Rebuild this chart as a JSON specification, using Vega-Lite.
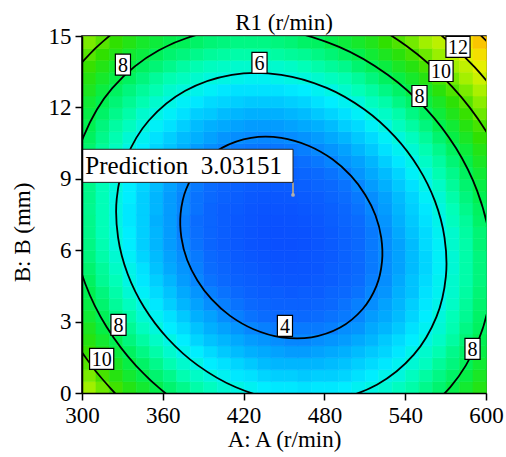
{
"$schema": "https://vega.github.io/schema/vega-lite/v6.json",
"width": 404, "height": 357,
"autosize": {"type": "none"},
"padding": {"left": 82, "top": 36, "right": 20, "bottom": 64},
"background": "white",
"title": {"text": "R1 (r/min)", "font": "'Liberation Serif', 'Times New Roman', Times, serif", "fontSize": 23, "fontWeight": "normal", "color": "black", "offset": -28, "baseline": "alphabetic", "anchor": "middle"},
"config": {
 "view": {"stroke": "black", "strokeWidth": 1.5},
 "axis": {"labelFont": "'Liberation Serif', 'Times New Roman', Times, serif", "labelFontSize": 23, "labelColor": "black", "titleFont": "'Liberation Serif', 'Times New Roman', Times, serif", "titleFontSize": 23, "titleFontWeight": "normal", "titleColor": "black", "domainColor": "black", "domainWidth": 1.5, "tickColor": "black", "tickWidth": 1.5, "tickSize": 7, "grid": false, "labelPadding": 4, "labelFlush": false, "labelOverlap": false},
 "axisX": {"titlePadding": 1},
 "axisY": {"titlePadding": 14, "titleY": 196}
},
"datasets": {
"grid": [
{"a":300,"b":0,"r":11.0},{"a":310,"b":0,"r":10.3},{"a":320,"b":0,"r":9.7},{"a":330,"b":0,"r":9.1},{"a":340,"b":0,"r":8.6},{"a":350,"b":0,"r":8.1},{"a":360,"b":0,"r":7.6},{"a":370,"b":0,"r":7.2},{"a":380,"b":0,"r":6.8},{"a":390,"b":0,"r":6.5},{"a":400,"b":0,"r":6.2},{"a":410,"b":0,"r":6.0},{"a":420,"b":0,"r":5.8},{"a":430,"b":0,"r":5.6},{"a":440,"b":0,"r":5.5},{"a":450,"b":0,"r":5.5},{"a":460,"b":0,"r":5.4},{"a":470,"b":0,"r":5.5},{"a":480,"b":0,"r":5.5},{"a":490,"b":0,"r":5.6},{"a":500,"b":0,"r":5.8},{"a":510,"b":0,"r":6.0},{"a":520,"b":0,"r":6.2},{"a":530,"b":0,"r":6.5},{"a":540,"b":0,"r":6.8},{"a":550,"b":0,"r":7.2},{"a":560,"b":0,"r":7.6},{"a":570,"b":0,"r":8.1},{"a":580,"b":0,"r":8.6},{"a":590,"b":0,"r":9.1},
{"a":300,"b":0.5,"r":10.5},{"a":310,"b":0.5,"r":9.8},{"a":320,"b":0.5,"r":9.2},{"a":330,"b":0.5,"r":8.6},{"a":340,"b":0.5,"r":8.1},{"a":350,"b":0.5,"r":7.6},{"a":360,"b":0.5,"r":7.2},{"a":370,"b":0.5,"r":6.7},{"a":380,"b":0.5,"r":6.4},{"a":390,"b":0.5,"r":6.1},{"a":400,"b":0.5,"r":5.8},{"a":410,"b":0.5,"r":5.5},{"a":420,"b":0.5,"r":5.4},{"a":430,"b":0.5,"r":5.2},{"a":440,"b":0.5,"r":5.1},{"a":450,"b":0.5,"r":5.1},{"a":460,"b":0.5,"r":5.0},{"a":470,"b":0.5,"r":5.1},{"a":480,"b":0.5,"r":5.1},{"a":490,"b":0.5,"r":5.2},{"a":500,"b":0.5,"r":5.4},{"a":510,"b":0.5,"r":5.6},{"a":520,"b":0.5,"r":5.9},{"a":530,"b":0.5,"r":6.1},{"a":540,"b":0.5,"r":6.5},{"a":550,"b":0.5,"r":6.9},{"a":560,"b":0.5,"r":7.3},{"a":570,"b":0.5,"r":7.7},{"a":580,"b":0.5,"r":8.2},{"a":590,"b":0.5,"r":8.8},
{"a":300,"b":1,"r":10.0},{"a":310,"b":1,"r":9.4},{"a":320,"b":1,"r":8.8},{"a":330,"b":1,"r":8.2},{"a":340,"b":1,"r":7.7},{"a":350,"b":1,"r":7.2},{"a":360,"b":1,"r":6.7},{"a":370,"b":1,"r":6.3},{"a":380,"b":1,"r":6.0},{"a":390,"b":1,"r":5.6},{"a":400,"b":1,"r":5.4},{"a":410,"b":1,"r":5.2},{"a":420,"b":1,"r":5.0},{"a":430,"b":1,"r":4.8},{"a":440,"b":1,"r":4.7},{"a":450,"b":1,"r":4.7},{"a":460,"b":1,"r":4.7},{"a":470,"b":1,"r":4.7},{"a":480,"b":1,"r":4.8},{"a":490,"b":1,"r":4.9},{"a":500,"b":1,"r":5.1},{"a":510,"b":1,"r":5.3},{"a":520,"b":1,"r":5.5},{"a":530,"b":1,"r":5.8},{"a":540,"b":1,"r":6.2},{"a":550,"b":1,"r":6.5},{"a":560,"b":1,"r":7.0},{"a":570,"b":1,"r":7.4},{"a":580,"b":1,"r":7.9},{"a":590,"b":1,"r":8.5},
{"a":300,"b":1.5,"r":9.6},{"a":310,"b":1.5,"r":9.0},{"a":320,"b":1.5,"r":8.3},{"a":330,"b":1.5,"r":7.8},{"a":340,"b":1.5,"r":7.3},{"a":350,"b":1.5,"r":6.8},{"a":360,"b":1.5,"r":6.3},{"a":370,"b":1.5,"r":5.9},{"a":380,"b":1.5,"r":5.6},{"a":390,"b":1.5,"r":5.3},{"a":400,"b":1.5,"r":5.0},{"a":410,"b":1.5,"r":4.8},{"a":420,"b":1.5,"r":4.6},{"a":430,"b":1.5,"r":4.5},{"a":440,"b":1.5,"r":4.4},{"a":450,"b":1.5,"r":4.3},{"a":460,"b":1.5,"r":4.3},{"a":470,"b":1.5,"r":4.4},{"a":480,"b":1.5,"r":4.5},{"a":490,"b":1.5,"r":4.6},{"a":500,"b":1.5,"r":4.8},{"a":510,"b":1.5,"r":5.0},{"a":520,"b":1.5,"r":5.2},{"a":530,"b":1.5,"r":5.5},{"a":540,"b":1.5,"r":5.9},{"a":550,"b":1.5,"r":6.3},{"a":560,"b":1.5,"r":6.7},{"a":570,"b":1.5,"r":7.2},{"a":580,"b":1.5,"r":7.7},{"a":590,"b":1.5,"r":8.2},
{"a":300,"b":2,"r":9.2},{"a":310,"b":2,"r":8.6},{"a":320,"b":2,"r":8.0},{"a":330,"b":2,"r":7.4},{"a":340,"b":2,"r":6.9},{"a":350,"b":2,"r":6.4},{"a":360,"b":2,"r":6.0},{"a":370,"b":2,"r":5.6},{"a":380,"b":2,"r":5.2},{"a":390,"b":2,"r":4.9},{"a":400,"b":2,"r":4.7},{"a":410,"b":2,"r":4.5},{"a":420,"b":2,"r":4.3},{"a":430,"b":2,"r":4.2},{"a":440,"b":2,"r":4.1},{"a":450,"b":2,"r":4.0},{"a":460,"b":2,"r":4.0},{"a":470,"b":2,"r":4.1},{"a":480,"b":2,"r":4.2},{"a":490,"b":2,"r":4.3},{"a":500,"b":2,"r":4.5},{"a":510,"b":2,"r":4.7},{"a":520,"b":2,"r":5.0},{"a":530,"b":2,"r":5.3},{"a":540,"b":2,"r":5.6},{"a":550,"b":2,"r":6.0},{"a":560,"b":2,"r":6.4},{"a":570,"b":2,"r":6.9},{"a":580,"b":2,"r":7.5},{"a":590,"b":2,"r":8.0},
{"a":300,"b":2.5,"r":8.9},{"a":310,"b":2.5,"r":8.2},{"a":320,"b":2.5,"r":7.6},{"a":330,"b":2.5,"r":7.1},{"a":340,"b":2.5,"r":6.5},{"a":350,"b":2.5,"r":6.1},{"a":360,"b":2.5,"r":5.6},{"a":370,"b":2.5,"r":5.3},{"a":380,"b":2.5,"r":4.9},{"a":390,"b":2.5,"r":4.6},{"a":400,"b":2.5,"r":4.4},{"a":410,"b":2.5,"r":4.2},{"a":420,"b":2.5,"r":4.0},{"a":430,"b":2.5,"r":3.9},{"a":440,"b":2.5,"r":3.8},{"a":450,"b":2.5,"r":3.8},{"a":460,"b":2.5,"r":3.8},{"a":470,"b":2.5,"r":3.8},{"a":480,"b":2.5,"r":3.9},{"a":490,"b":2.5,"r":4.1},{"a":500,"b":2.5,"r":4.2},{"a":510,"b":2.5,"r":4.5},{"a":520,"b":2.5,"r":4.7},{"a":530,"b":2.5,"r":5.0},{"a":540,"b":2.5,"r":5.4},{"a":550,"b":2.5,"r":5.8},{"a":560,"b":2.5,"r":6.2},{"a":570,"b":2.5,"r":6.7},{"a":580,"b":2.5,"r":7.3},{"a":590,"b":2.5,"r":7.8},
{"a":300,"b":3,"r":8.5},{"a":310,"b":3,"r":7.9},{"a":320,"b":3,"r":7.3},{"a":330,"b":3,"r":6.8},{"a":340,"b":3,"r":6.2},{"a":350,"b":3,"r":5.8},{"a":360,"b":3,"r":5.4},{"a":370,"b":3,"r":5.0},{"a":380,"b":3,"r":4.6},{"a":390,"b":3,"r":4.4},{"a":400,"b":3,"r":4.1},{"a":410,"b":3,"r":3.9},{"a":420,"b":3,"r":3.7},{"a":430,"b":3,"r":3.6},{"a":440,"b":3,"r":3.5},{"a":450,"b":3,"r":3.5},{"a":460,"b":3,"r":3.5},{"a":470,"b":3,"r":3.6},{"a":480,"b":3,"r":3.7},{"a":490,"b":3,"r":3.8},{"a":500,"b":3,"r":4.0},{"a":510,"b":3,"r":4.3},{"a":520,"b":3,"r":4.5},{"a":530,"b":3,"r":4.8},{"a":540,"b":3,"r":5.2},{"a":550,"b":3,"r":5.6},{"a":560,"b":3,"r":6.1},{"a":570,"b":3,"r":6.6},{"a":580,"b":3,"r":7.1},{"a":590,"b":3,"r":7.7},
{"a":300,"b":3.5,"r":8.2},{"a":310,"b":3.5,"r":7.6},{"a":320,"b":3.5,"r":7.0},{"a":330,"b":3.5,"r":6.5},{"a":340,"b":3.5,"r":6.0},{"a":350,"b":3.5,"r":5.5},{"a":360,"b":3.5,"r":5.1},{"a":370,"b":3.5,"r":4.7},{"a":380,"b":3.5,"r":4.4},{"a":390,"b":3.5,"r":4.1},{"a":400,"b":3.5,"r":3.9},{"a":410,"b":3.5,"r":3.7},{"a":420,"b":3.5,"r":3.5},{"a":430,"b":3.5,"r":3.4},{"a":440,"b":3.5,"r":3.3},{"a":450,"b":3.5,"r":3.3},{"a":460,"b":3.5,"r":3.3},{"a":470,"b":3.5,"r":3.4},{"a":480,"b":3.5,"r":3.5},{"a":490,"b":3.5,"r":3.7},{"a":500,"b":3.5,"r":3.9},{"a":510,"b":3.5,"r":4.1},{"a":520,"b":3.5,"r":4.4},{"a":530,"b":3.5,"r":4.7},{"a":540,"b":3.5,"r":5.1},{"a":550,"b":3.5,"r":5.5},{"a":560,"b":3.5,"r":5.9},{"a":570,"b":3.5,"r":6.4},{"a":580,"b":3.5,"r":7.0},{"a":590,"b":3.5,"r":7.6},
{"a":300,"b":4,"r":8.0},{"a":310,"b":4,"r":7.4},{"a":320,"b":4,"r":6.8},{"a":330,"b":4,"r":6.2},{"a":340,"b":4,"r":5.7},{"a":350,"b":4,"r":5.3},{"a":360,"b":4,"r":4.9},{"a":370,"b":4,"r":4.5},{"a":380,"b":4,"r":4.2},{"a":390,"b":4,"r":3.9},{"a":400,"b":4,"r":3.7},{"a":410,"b":4,"r":3.5},{"a":420,"b":4,"r":3.3},{"a":430,"b":4,"r":3.2},{"a":440,"b":4,"r":3.2},{"a":450,"b":4,"r":3.1},{"a":460,"b":4,"r":3.2},{"a":470,"b":4,"r":3.2},{"a":480,"b":4,"r":3.4},{"a":490,"b":4,"r":3.5},{"a":500,"b":4,"r":3.7},{"a":510,"b":4,"r":4.0},{"a":520,"b":4,"r":4.2},{"a":530,"b":4,"r":4.6},{"a":540,"b":4,"r":4.9},{"a":550,"b":4,"r":5.4},{"a":560,"b":4,"r":5.8},{"a":570,"b":4,"r":6.3},{"a":580,"b":4,"r":6.9},{"a":590,"b":4,"r":7.5},
{"a":300,"b":4.5,"r":7.8},{"a":310,"b":4.5,"r":7.1},{"a":320,"b":4.5,"r":6.6},{"a":330,"b":4.5,"r":6.0},{"a":340,"b":4.5,"r":5.5},{"a":350,"b":4.5,"r":5.1},{"a":360,"b":4.5,"r":4.7},{"a":370,"b":4.5,"r":4.3},{"a":380,"b":4.5,"r":4.0},{"a":390,"b":4.5,"r":3.7},{"a":400,"b":4.5,"r":3.5},{"a":410,"b":4.5,"r":3.3},{"a":420,"b":4.5,"r":3.2},{"a":430,"b":4.5,"r":3.1},{"a":440,"b":4.5,"r":3.0},{"a":450,"b":4.5,"r":3.0},{"a":460,"b":4.5,"r":3.0},{"a":470,"b":4.5,"r":3.1},{"a":480,"b":4.5,"r":3.2},{"a":490,"b":4.5,"r":3.4},{"a":500,"b":4.5,"r":3.6},{"a":510,"b":4.5,"r":3.9},{"a":520,"b":4.5,"r":4.1},{"a":530,"b":4.5,"r":4.5},{"a":540,"b":4.5,"r":4.9},{"a":550,"b":4.5,"r":5.3},{"a":560,"b":4.5,"r":5.8},{"a":570,"b":4.5,"r":6.3},{"a":580,"b":4.5,"r":6.8},{"a":590,"b":4.5,"r":7.4},
{"a":300,"b":5,"r":7.6},{"a":310,"b":5,"r":7.0},{"a":320,"b":5,"r":6.4},{"a":330,"b":5,"r":5.9},{"a":340,"b":5,"r":5.4},{"a":350,"b":5,"r":4.9},{"a":360,"b":5,"r":4.5},{"a":370,"b":5,"r":4.2},{"a":380,"b":5,"r":3.9},{"a":390,"b":5,"r":3.6},{"a":400,"b":5,"r":3.4},{"a":410,"b":5,"r":3.2},{"a":420,"b":5,"r":3.1},{"a":430,"b":5,"r":3.0},{"a":440,"b":5,"r":2.9},{"a":450,"b":5,"r":2.9},{"a":460,"b":5,"r":2.95},{"a":470,"b":5,"r":3.0},{"a":480,"b":5,"r":3.2},{"a":490,"b":5,"r":3.3},{"a":500,"b":5,"r":3.5},{"a":510,"b":5,"r":3.8},{"a":520,"b":5,"r":4.1},{"a":530,"b":5,"r":4.4},{"a":540,"b":5,"r":4.8},{"a":550,"b":5,"r":5.2},{"a":560,"b":5,"r":5.7},{"a":570,"b":5,"r":6.2},{"a":580,"b":5,"r":6.8},{"a":590,"b":5,"r":7.4},
{"a":300,"b":5.5,"r":7.4},{"a":310,"b":5.5,"r":6.8},{"a":320,"b":5.5,"r":6.25},{"a":330,"b":5.5,"r":5.7},{"a":340,"b":5.5,"r":5.2},{"a":350,"b":5.5,"r":4.8},{"a":360,"b":5.5,"r":4.4},{"a":370,"b":5.5,"r":4.1},{"a":380,"b":5.5,"r":3.8},{"a":390,"b":5.5,"r":3.5},{"a":400,"b":5.5,"r":3.3},{"a":410,"b":5.5,"r":3.1},{"a":420,"b":5.5,"r":3.0},{"a":430,"b":5.5,"r":2.9},{"a":440,"b":5.5,"r":2.85},{"a":450,"b":5.5,"r":2.85},{"a":460,"b":5.5,"r":2.9},{"a":470,"b":5.5,"r":3.0},{"a":480,"b":5.5,"r":3.1},{"a":490,"b":5.5,"r":3.3},{"a":500,"b":5.5,"r":3.5},{"a":510,"b":5.5,"r":3.8},{"a":520,"b":5.5,"r":4.1},{"a":530,"b":5.5,"r":4.4},{"a":540,"b":5.5,"r":4.8},{"a":550,"b":5.5,"r":5.2},{"a":560,"b":5.5,"r":5.7},{"a":570,"b":5.5,"r":6.2},{"a":580,"b":5.5,"r":6.8},{"a":590,"b":5.5,"r":7.4},
{"a":300,"b":6,"r":7.3},{"a":310,"b":6,"r":6.7},{"a":320,"b":6,"r":6.1},{"a":330,"b":6,"r":5.6},{"a":340,"b":6,"r":5.1},{"a":350,"b":6,"r":4.7},{"a":360,"b":6,"r":4.3},{"a":370,"b":6,"r":4.0},{"a":380,"b":6,"r":3.7},{"a":390,"b":6,"r":3.4},{"a":400,"b":6,"r":3.2},{"a":410,"b":6,"r":3.05},{"a":420,"b":6,"r":2.9},{"a":430,"b":6,"r":2.85},{"a":440,"b":6,"r":2.8},{"a":450,"b":6,"r":2.8},{"a":460,"b":6,"r":2.86},{"a":470,"b":6,"r":2.96},{"a":480,"b":6,"r":3.1},{"a":490,"b":6,"r":3.3},{"a":500,"b":6,"r":3.5},{"a":510,"b":6,"r":3.8},{"a":520,"b":6,"r":4.1},{"a":530,"b":6,"r":4.4},{"a":540,"b":6,"r":4.8},{"a":550,"b":6,"r":5.3},{"a":560,"b":6,"r":5.7},{"a":570,"b":6,"r":6.3},{"a":580,"b":6,"r":6.8},{"a":590,"b":6,"r":7.5},
{"a":300,"b":6.5,"r":7.2},{"a":310,"b":6.5,"r":6.6},{"a":320,"b":6.5,"r":6.1},{"a":330,"b":6.5,"r":5.6},{"a":340,"b":6.5,"r":5.1},{"a":350,"b":6.5,"r":4.7},{"a":360,"b":6.5,"r":4.3},{"a":370,"b":6.5,"r":3.9},{"a":380,"b":6.5,"r":3.65},{"a":390,"b":6.5,"r":3.4},{"a":400,"b":6.5,"r":3.2},{"a":410,"b":6.5,"r":3.03},{"a":420,"b":6.5,"r":2.91},{"a":430,"b":6.5,"r":2.84},{"a":440,"b":6.5,"r":2.8},{"a":450,"b":6.5,"r":2.82},{"a":460,"b":6.5,"r":2.87},{"a":470,"b":6.5,"r":2.97},{"a":480,"b":6.5,"r":3.1},{"a":490,"b":6.5,"r":3.3},{"a":500,"b":6.5,"r":3.5},{"a":510,"b":6.5,"r":3.8},{"a":520,"b":6.5,"r":4.1},{"a":530,"b":6.5,"r":4.5},{"a":540,"b":6.5,"r":4.9},{"a":550,"b":6.5,"r":5.3},{"a":560,"b":6.5,"r":5.8},{"a":570,"b":6.5,"r":6.3},{"a":580,"b":6.5,"r":6.9},{"a":590,"b":6.5,"r":7.5},
{"a":300,"b":7,"r":7.2},{"a":310,"b":7,"r":6.6},{"a":320,"b":7,"r":6.0},{"a":330,"b":7,"r":5.5},{"a":340,"b":7,"r":5.1},{"a":350,"b":7,"r":4.6},{"a":360,"b":7,"r":4.3},{"a":370,"b":7,"r":3.9},{"a":380,"b":7,"r":3.6},{"a":390,"b":7,"r":3.4},{"a":400,"b":7,"r":3.2},{"a":410,"b":7,"r":3.04},{"a":420,"b":7,"r":2.93},{"a":430,"b":7,"r":2.86},{"a":440,"b":7,"r":2.83},{"a":450,"b":7,"r":2.85},{"a":460,"b":7,"r":2.91},{"a":470,"b":7,"r":3.02},{"a":480,"b":7,"r":3.2},{"a":490,"b":7,"r":3.4},{"a":500,"b":7,"r":3.6},{"a":510,"b":7,"r":3.9},{"a":520,"b":7,"r":4.2},{"a":530,"b":7,"r":4.6},{"a":540,"b":7,"r":5.0},{"a":550,"b":7,"r":5.4},{"a":560,"b":7,"r":5.9},{"a":570,"b":7,"r":6.5},{"a":580,"b":7,"r":7.0},{"a":590,"b":7,"r":7.7},
{"a":300,"b":7.5,"r":7.15},{"a":310,"b":7.5,"r":6.6},{"a":320,"b":7.5,"r":6.0},{"a":330,"b":7.5,"r":5.5},{"a":340,"b":7.5,"r":5.1},{"a":350,"b":7.5,"r":4.7},{"a":360,"b":7.5,"r":4.3},{"a":370,"b":7.5,"r":4.0},{"a":380,"b":7.5,"r":3.7},{"a":390,"b":7.5,"r":3.4},{"a":400,"b":7.5,"r":3.2},{"a":410,"b":7.5,"r":3.1},{"a":420,"b":7.5,"r":2.98},{"a":430,"b":7.5,"r":2.92},{"a":440,"b":7.5,"r":2.9},{"a":450,"b":7.5,"r":2.92},{"a":460,"b":7.5,"r":2.99},{"a":470,"b":7.5,"r":3.1},{"a":480,"b":7.5,"r":3.25},{"a":490,"b":7.5,"r":3.45},{"a":500,"b":7.5,"r":3.7},{"a":510,"b":7.5,"r":4.0},{"a":520,"b":7.5,"r":4.3},{"a":530,"b":7.5,"r":4.7},{"a":540,"b":7.5,"r":5.1},{"a":550,"b":7.5,"r":5.5},{"a":560,"b":7.5,"r":6.05},{"a":570,"b":7.5,"r":6.6},{"a":580,"b":7.5,"r":7.2},{"a":590,"b":7.5,"r":7.8},
{"a":300,"b":8,"r":7.2},{"a":310,"b":8,"r":6.6},{"a":320,"b":8,"r":6.0},{"a":330,"b":8,"r":5.6},{"a":340,"b":8,"r":5.1},{"a":350,"b":8,"r":4.7},{"a":360,"b":8,"r":4.3},{"a":370,"b":8,"r":4.0},{"a":380,"b":8,"r":3.7},{"a":390,"b":8,"r":3.5},{"a":400,"b":8,"r":3.3},{"a":410,"b":8,"r":3.2},{"a":420,"b":8,"r":3.07},{"a":430,"b":8,"r":3.01},{"a":440,"b":8,"r":3.0},{"a":450,"b":8,"r":3.03},{"a":460,"b":8,"r":3.1},{"a":470,"b":8,"r":3.2},{"a":480,"b":8,"r":3.4},{"a":490,"b":8,"r":3.6},{"a":500,"b":8,"r":3.8},{"a":510,"b":8,"r":4.1},{"a":520,"b":8,"r":4.4},{"a":530,"b":8,"r":4.8},{"a":540,"b":8,"r":5.2},{"a":550,"b":8,"r":5.7},{"a":560,"b":8,"r":6.2},{"a":570,"b":8,"r":6.8},{"a":580,"b":8,"r":7.4},{"a":590,"b":8,"r":8.0},
{"a":300,"b":8.5,"r":7.2},{"a":310,"b":8.5,"r":6.6},{"a":320,"b":8.5,"r":6.1},{"a":330,"b":8.5,"r":5.6},{"a":340,"b":8.5,"r":5.2},{"a":350,"b":8.5,"r":4.8},{"a":360,"b":8.5,"r":4.4},{"a":370,"b":8.5,"r":4.1},{"a":380,"b":8.5,"r":3.8},{"a":390,"b":8.5,"r":3.6},{"a":400,"b":8.5,"r":3.4},{"a":410,"b":8.5,"r":3.3},{"a":420,"b":8.5,"r":3.2},{"a":430,"b":8.5,"r":3.14},{"a":440,"b":8.5,"r":3.13},{"a":450,"b":8.5,"r":3.17},{"a":460,"b":8.5,"r":3.25},{"a":470,"b":8.5,"r":3.4},{"a":480,"b":8.5,"r":3.5},{"a":490,"b":8.5,"r":3.7},{"a":500,"b":8.5,"r":4.0},{"a":510,"b":8.5,"r":4.3},{"a":520,"b":8.5,"r":4.6},{"a":530,"b":8.5,"r":5.0},{"a":540,"b":8.5,"r":5.4},{"a":550,"b":8.5,"r":5.9},{"a":560,"b":8.5,"r":6.4},{"a":570,"b":8.5,"r":7.0},{"a":580,"b":8.5,"r":7.6},{"a":590,"b":8.5,"r":8.2},
{"a":300,"b":9,"r":7.3},{"a":310,"b":9,"r":6.7},{"a":320,"b":9,"r":6.2},{"a":330,"b":9,"r":5.7},{"a":340,"b":9,"r":5.3},{"a":350,"b":9,"r":4.9},{"a":360,"b":9,"r":4.5},{"a":370,"b":9,"r":4.2},{"a":380,"b":9,"r":4.0},{"a":390,"b":9,"r":3.7},{"a":400,"b":9,"r":3.6},{"a":410,"b":9,"r":3.4},{"a":420,"b":9,"r":3.35},{"a":430,"b":9,"r":3.3},{"a":440,"b":9,"r":3.3},{"a":450,"b":9,"r":3.34},{"a":460,"b":9,"r":3.42},{"a":470,"b":9,"r":3.55},{"a":480,"b":9,"r":3.7},{"a":490,"b":9,"r":3.9},{"a":500,"b":9,"r":4.2},{"a":510,"b":9,"r":4.5},{"a":520,"b":9,"r":4.8},{"a":530,"b":9,"r":5.2},{"a":540,"b":9,"r":5.7},{"a":550,"b":9,"r":6.1},{"a":560,"b":9,"r":6.7},{"a":570,"b":9,"r":7.2},{"a":580,"b":9,"r":7.8},{"a":590,"b":9,"r":8.5},
{"a":300,"b":9.5,"r":7.4},{"a":310,"b":9.5,"r":6.9},{"a":320,"b":9.5,"r":6.3},{"a":330,"b":9.5,"r":5.9},{"a":340,"b":9.5,"r":5.4},{"a":350,"b":9.5,"r":5.0},{"a":360,"b":9.5,"r":4.7},{"a":370,"b":9.5,"r":4.4},{"a":380,"b":9.5,"r":4.1},{"a":390,"b":9.5,"r":3.9},{"a":400,"b":9.5,"r":3.75},{"a":410,"b":9.5,"r":3.6},{"a":420,"b":9.5,"r":3.54},{"a":430,"b":9.5,"r":3.5},{"a":440,"b":9.5,"r":3.5},{"a":450,"b":9.5,"r":3.55},{"a":460,"b":9.5,"r":3.64},{"a":470,"b":9.5,"r":3.77},{"a":480,"b":9.5,"r":3.95},{"a":490,"b":9.5,"r":4.2},{"a":500,"b":9.5,"r":4.4},{"a":510,"b":9.5,"r":4.7},{"a":520,"b":9.5,"r":5.1},{"a":530,"b":9.5,"r":5.5},{"a":540,"b":9.5,"r":5.9},{"a":550,"b":9.5,"r":6.4},{"a":560,"b":9.5,"r":6.9},{"a":570,"b":9.5,"r":7.5},{"a":580,"b":9.5,"r":8.1},{"a":590,"b":9.5,"r":8.8},
{"a":300,"b":10,"r":7.6},{"a":310,"b":10,"r":7.0},{"a":320,"b":10,"r":6.5},{"a":330,"b":10,"r":6.0},{"a":340,"b":10,"r":5.6},{"a":350,"b":10,"r":5.2},{"a":360,"b":10,"r":4.9},{"a":370,"b":10,"r":4.6},{"a":380,"b":10,"r":4.3},{"a":390,"b":10,"r":4.1},{"a":400,"b":10,"r":3.96},{"a":410,"b":10,"r":3.84},{"a":420,"b":10,"r":3.76},{"a":430,"b":10,"r":3.73},{"a":440,"b":10,"r":3.74},{"a":450,"b":10,"r":3.79},{"a":460,"b":10,"r":3.88},{"a":470,"b":10,"r":4.02},{"a":480,"b":10,"r":4.2},{"a":490,"b":10,"r":4.4},{"a":500,"b":10,"r":4.7},{"a":510,"b":10,"r":5.0},{"a":520,"b":10,"r":5.4},{"a":530,"b":10,"r":5.8},{"a":540,"b":10,"r":6.2},{"a":550,"b":10,"r":6.7},{"a":560,"b":10,"r":7.2},{"a":570,"b":10,"r":7.8},{"a":580,"b":10,"r":8.4},{"a":590,"b":10,"r":9.1},
{"a":300,"b":10.5,"r":7.8},{"a":310,"b":10.5,"r":7.2},{"a":320,"b":10.5,"r":6.7},{"a":330,"b":10.5,"r":6.2},{"a":340,"b":10.5,"r":5.8},{"a":350,"b":10.5,"r":5.4},{"a":360,"b":10.5,"r":5.1},{"a":370,"b":10.5,"r":4.8},{"a":380,"b":10.5,"r":4.6},{"a":390,"b":10.5,"r":4.4},{"a":400,"b":10.5,"r":4.2},{"a":410,"b":10.5,"r":4.1},{"a":420,"b":10.5,"r":4.02},{"a":430,"b":10.5,"r":3.99},{"a":440,"b":10.5,"r":4.01},{"a":450,"b":10.5,"r":4.07},{"a":460,"b":10.5,"r":4.17},{"a":470,"b":10.5,"r":4.3},{"a":480,"b":10.5,"r":4.5},{"a":490,"b":10.5,"r":4.7},{"a":500,"b":10.5,"r":5.0},{"a":510,"b":10.5,"r":5.3},{"a":520,"b":10.5,"r":5.7},{"a":530,"b":10.5,"r":6.1},{"a":540,"b":10.5,"r":6.5},{"a":550,"b":10.5,"r":7.0},{"a":560,"b":10.5,"r":7.6},{"a":570,"b":10.5,"r":8.2},{"a":580,"b":10.5,"r":8.8},{"a":590,"b":10.5,"r":9.5},
{"a":300,"b":11,"r":8.0},{"a":310,"b":11,"r":7.4},{"a":320,"b":11,"r":6.9},{"a":330,"b":11,"r":6.5},{"a":340,"b":11,"r":6.1},{"a":350,"b":11,"r":5.7},{"a":360,"b":11,"r":5.4},{"a":370,"b":11,"r":5.1},{"a":380,"b":11,"r":4.8},{"a":390,"b":11,"r":4.6},{"a":400,"b":11,"r":4.5},{"a":410,"b":11,"r":4.4},{"a":420,"b":11,"r":4.3},{"a":430,"b":11,"r":4.3},{"a":440,"b":11,"r":4.3},{"a":450,"b":11,"r":4.4},{"a":460,"b":11,"r":4.5},{"a":470,"b":11,"r":4.6},{"a":480,"b":11,"r":4.8},{"a":490,"b":11,"r":5.1},{"a":500,"b":11,"r":5.3},{"a":510,"b":11,"r":5.7},{"a":520,"b":11,"r":6.0},{"a":530,"b":11,"r":6.5},{"a":540,"b":11,"r":6.9},{"a":550,"b":11,"r":7.4},{"a":560,"b":11,"r":8.0},{"a":570,"b":11,"r":8.5},{"a":580,"b":11,"r":9.2},{"a":590,"b":11,"r":9.8},
{"a":300,"b":11.5,"r":8.2},{"a":310,"b":11.5,"r":7.7},{"a":320,"b":11.5,"r":7.2},{"a":330,"b":11.5,"r":6.8},{"a":340,"b":11.5,"r":6.3},{"a":350,"b":11.5,"r":6.0},{"a":360,"b":11.5,"r":5.7},{"a":370,"b":11.5,"r":5.4},{"a":380,"b":11.5,"r":5.1},{"a":390,"b":11.5,"r":5.0},{"a":400,"b":11.5,"r":4.8},{"a":410,"b":11.5,"r":4.7},{"a":420,"b":11.5,"r":4.6},{"a":430,"b":11.5,"r":4.6},{"a":440,"b":11.5,"r":4.6},{"a":450,"b":11.5,"r":4.7},{"a":460,"b":11.5,"r":4.8},{"a":470,"b":11.5,"r":5.0},{"a":480,"b":11.5,"r":5.2},{"a":490,"b":11.5,"r":5.4},{"a":500,"b":11.5,"r":5.7},{"a":510,"b":11.5,"r":6.1},{"a":520,"b":11.5,"r":6.4},{"a":530,"b":11.5,"r":6.8},{"a":540,"b":11.5,"r":7.3},{"a":550,"b":11.5,"r":7.8},{"a":560,"b":11.5,"r":8.4},{"a":570,"b":11.5,"r":9.0},{"a":580,"b":11.5,"r":9.6},{"a":590,"b":11.5,"r":10.3},
{"a":300,"b":12,"r":8.5},{"a":310,"b":12,"r":8.0},{"a":320,"b":12,"r":7.5},{"a":330,"b":12,"r":7.1},{"a":340,"b":12,"r":6.7},{"a":350,"b":12,"r":6.3},{"a":360,"b":12,"r":6.0},{"a":370,"b":12,"r":5.7},{"a":380,"b":12,"r":5.5},{"a":390,"b":12,"r":5.3},{"a":400,"b":12,"r":5.2},{"a":410,"b":12,"r":5.1},{"a":420,"b":12,"r":5.0},{"a":430,"b":12,"r":5.0},{"a":440,"b":12,"r":5.0},{"a":450,"b":12,"r":5.1},{"a":460,"b":12,"r":5.2},{"a":470,"b":12,"r":5.4},{"a":480,"b":12,"r":5.6},{"a":490,"b":12,"r":5.8},{"a":500,"b":12,"r":6.1},{"a":510,"b":12,"r":6.5},{"a":520,"b":12,"r":6.8},{"a":530,"b":12,"r":7.3},{"a":540,"b":12,"r":7.7},{"a":550,"b":12,"r":8.3},{"a":560,"b":12,"r":8.8},{"a":570,"b":12,"r":9.4},{"a":580,"b":12,"r":10.0},{"a":590,"b":12,"r":10.7},
{"a":300,"b":12.5,"r":8.9},{"a":310,"b":12.5,"r":8.3},{"a":320,"b":12.5,"r":7.8},{"a":330,"b":12.5,"r":7.4},{"a":340,"b":12.5,"r":7.0},{"a":350,"b":12.5,"r":6.7},{"a":360,"b":12.5,"r":6.3},{"a":370,"b":12.5,"r":6.1},{"a":380,"b":12.5,"r":5.9},{"a":390,"b":12.5,"r":5.7},{"a":400,"b":12.5,"r":5.5},{"a":410,"b":12.5,"r":5.4},{"a":420,"b":12.5,"r":5.4},{"a":430,"b":12.5,"r":5.4},{"a":440,"b":12.5,"r":5.4},{"a":450,"b":12.5,"r":5.5},{"a":460,"b":12.5,"r":5.6},{"a":470,"b":12.5,"r":5.8},{"a":480,"b":12.5,"r":6.0},{"a":490,"b":12.5,"r":6.3},{"a":500,"b":12.5,"r":6.6},{"a":510,"b":12.5,"r":6.9},{"a":520,"b":12.5,"r":7.3},{"a":530,"b":12.5,"r":7.7},{"a":540,"b":12.5,"r":8.2},{"a":550,"b":12.5,"r":8.7},{"a":560,"b":12.5,"r":9.3},{"a":570,"b":12.5,"r":9.9},{"a":580,"b":12.5,"r":10.5},{"a":590,"b":12.5,"r":11.2},
{"a":300,"b":13,"r":9.2},{"a":310,"b":13,"r":8.7},{"a":320,"b":13,"r":8.2},{"a":330,"b":13,"r":7.8},{"a":340,"b":13,"r":7.4},{"a":350,"b":13,"r":7.0},{"a":360,"b":13,"r":6.7},{"a":370,"b":13,"r":6.5},{"a":380,"b":13,"r":6.3},{"a":390,"b":13,"r":6.1},{"a":400,"b":13,"r":6.0},{"a":410,"b":13,"r":5.9},{"a":420,"b":13,"r":5.8},{"a":430,"b":13,"r":5.8},{"a":440,"b":13,"r":5.9},{"a":450,"b":13,"r":6.0},{"a":460,"b":13,"r":6.1},{"a":470,"b":13,"r":6.3},{"a":480,"b":13,"r":6.5},{"a":490,"b":13,"r":6.7},{"a":500,"b":13,"r":7.0},{"a":510,"b":13,"r":7.4},{"a":520,"b":13,"r":7.8},{"a":530,"b":13,"r":8.2},{"a":540,"b":13,"r":8.7},{"a":550,"b":13,"r":9.2},{"a":560,"b":13,"r":9.8},{"a":570,"b":13,"r":10.4},{"a":580,"b":13,"r":11.1},{"a":590,"b":13,"r":11.8},
{"a":300,"b":13.5,"r":9.6},{"a":310,"b":13.5,"r":9.1},{"a":320,"b":13.5,"r":8.6},{"a":330,"b":13.5,"r":8.2},{"a":340,"b":13.5,"r":7.8},{"a":350,"b":13.5,"r":7.5},{"a":360,"b":13.5,"r":7.2},{"a":370,"b":13.5,"r":6.9},{"a":380,"b":13.5,"r":6.7},{"a":390,"b":13.5,"r":6.5},{"a":400,"b":13.5,"r":6.4},{"a":410,"b":13.5,"r":6.3},{"a":420,"b":13.5,"r":6.3},{"a":430,"b":13.5,"r":6.3},{"a":440,"b":13.5,"r":6.3},{"a":450,"b":13.5,"r":6.4},{"a":460,"b":13.5,"r":6.6},{"a":470,"b":13.5,"r":6.8},{"a":480,"b":13.5,"r":7.0},{"a":490,"b":13.5,"r":7.2},{"a":500,"b":13.5,"r":7.6},{"a":510,"b":13.5,"r":7.9},{"a":520,"b":13.5,"r":8.3},{"a":530,"b":13.5,"r":8.8},{"a":540,"b":13.5,"r":9.2},{"a":550,"b":13.5,"r":9.8},{"a":560,"b":13.5,"r":10.3},{"a":570,"b":13.5,"r":11.0},{"a":580,"b":13.5,"r":11.6},{"a":590,"b":13.5,"r":12.3},
{"a":300,"b":14,"r":10.0},{"a":310,"b":14,"r":9.5},{"a":320,"b":14,"r":9.1},{"a":330,"b":14,"r":8.6},{"a":340,"b":14,"r":8.3},{"a":350,"b":14,"r":7.9},{"a":360,"b":14,"r":7.6},{"a":370,"b":14,"r":7.4},{"a":380,"b":14,"r":7.2},{"a":390,"b":14,"r":7.0},{"a":400,"b":14,"r":6.9},{"a":410,"b":14,"r":6.8},{"a":420,"b":14,"r":6.8},{"a":430,"b":14,"r":6.8},{"a":440,"b":14,"r":6.9},{"a":450,"b":14,"r":7.0},{"a":460,"b":14,"r":7.1},{"a":470,"b":14,"r":7.3},{"a":480,"b":14,"r":7.5},{"a":490,"b":14,"r":7.8},{"a":500,"b":14,"r":8.1},{"a":510,"b":14,"r":8.5},{"a":520,"b":14,"r":8.9},{"a":530,"b":14,"r":9.3},{"a":540,"b":14,"r":9.8},{"a":550,"b":14,"r":10.3},{"a":560,"b":14,"r":10.9},{"a":570,"b":14,"r":11.5},{"a":580,"b":14,"r":12.2},{"a":590,"b":14,"r":12.9},
{"a":300,"b":14.5,"r":10.5},{"a":310,"b":14.5,"r":10.0},{"a":320,"b":14.5,"r":9.5},{"a":330,"b":14.5,"r":9.1},{"a":340,"b":14.5,"r":8.7},{"a":350,"b":14.5,"r":8.4},{"a":360,"b":14.5,"r":8.1},{"a":370,"b":14.5,"r":7.9},{"a":380,"b":14.5,"r":7.7},{"a":390,"b":14.5,"r":7.5},{"a":400,"b":14.5,"r":7.4},{"a":410,"b":14.5,"r":7.3},{"a":420,"b":14.5,"r":7.3},{"a":430,"b":14.5,"r":7.3},{"a":440,"b":14.5,"r":7.4},{"a":450,"b":14.5,"r":7.5},{"a":460,"b":14.5,"r":7.7},{"a":470,"b":14.5,"r":7.8},{"a":480,"b":14.5,"r":8.1},{"a":490,"b":14.5,"r":8.4},{"a":500,"b":14.5,"r":8.7},{"a":510,"b":14.5,"r":9.0},{"a":520,"b":14.5,"r":9.5},{"a":530,"b":14.5,"r":9.9},{"a":540,"b":14.5,"r":10.4},{"a":550,"b":14.5,"r":11.0},{"a":560,"b":14.5,"r":11.5},{"a":570,"b":14.5,"r":12.2},{"a":580,"b":14.5,"r":12.8},{"a":590,"b":14.5,"r":13.5}
],
"contours": [
{"lev":4,"k":0,"a":522.2,"b":6.53},{"lev":4,"k":1,"a":517.9,"b":7.47},{"lev":4,"k":2,"a":510.3,"b":8.33},{"lev":4,"k":3,"a":499.8,"b":9.12},{"lev":4,"k":4,"a":486.0,"b":9.82},{"lev":4,"k":5,"a":468.6,"b":10.38},{"lev":4,"k":6,"a":448,"b":10.72},{"lev":4,"k":7,"a":425.6,"b":10.72},{"lev":4,"k":8,"a":404.3,"b":10.31},{"lev":4,"k":9,"a":387.7,"b":9.54},{"lev":4,"k":10,"a":377.4,"b":8.57},{"lev":4,"k":11,"a":373.2,"b":7.53},{"lev":4,"k":12,"a":373.8,"b":6.53},{"lev":4,"k":13,"a":378.1,"b":5.59},{"lev":4,"k":14,"a":385.7,"b":4.73},{"lev":4,"k":15,"a":396.2,"b":3.94},{"lev":4,"k":16,"a":410.0,"b":3.24},{"lev":4,"k":17,"a":427.4,"b":2.68},{"lev":4,"k":18,"a":448,"b":2.34},{"lev":4,"k":19,"a":470.4,"b":2.34},{"lev":4,"k":20,"a":491.7,"b":2.75},{"lev":4,"k":21,"a":508.3,"b":3.52},{"lev":4,"k":22,"a":518.6,"b":4.49},{"lev":4,"k":23,"a":522.8,"b":5.53},
{"lev":6,"k":0,"a":569.2,"b":6.53},{"lev":6,"k":1,"a":562.1,"b":8.06},{"lev":6,"k":2,"a":549.8,"b":9.47},{"lev":6,"k":3,"a":532.5,"b":10.76},{"lev":6,"k":4,"a":510.0,"b":11.90},{"lev":6,"k":5,"a":481.7,"b":12.82},{"lev":6,"k":6,"a":448,"b":13.37},{"lev":6,"k":7,"a":411.3,"b":13.37},{"lev":6,"k":8,"a":376.7,"b":12.70},{"lev":6,"k":9,"a":349.6,"b":11.45},{"lev":6,"k":10,"a":332.8,"b":9.86},{"lev":6,"k":11,"a":325.8,"b":8.17},{"lev":6,"k":12,"a":326.8,"b":6.53},{"lev":6,"k":13,"a":333.9,"b":5.00},{"lev":6,"k":14,"a":346.2,"b":3.59},{"lev":6,"k":15,"a":363.5,"b":2.30},{"lev":6,"k":16,"a":386.0,"b":1.16},{"lev":6,"k":17,"a":414.3,"b":0.24},{"lev":6,"k":18,"a":448,"b":-0.31},{"lev":6,"k":19,"a":484.7,"b":-0.31},{"lev":6,"k":20,"a":519.3,"b":0.36},{"lev":6,"k":21,"a":546.4,"b":1.61},{"lev":6,"k":22,"a":563.2,"b":3.20},{"lev":6,"k":23,"a":570.2,"b":4.89},
{"lev":8,"k":0,"a":602.6,"b":6.53},{"lev":8,"k":1,"a":593.5,"b":8.48},{"lev":8,"k":2,"a":577.8,"b":10.28},{"lev":8,"k":3,"a":555.8,"b":11.92},{"lev":8,"k":4,"a":527.0,"b":13.37},{"lev":8,"k":5,"a":490.9,"b":14.54},{"lev":8,"k":6,"a":448,"b":15.25},{"lev":8,"k":7,"a":401.3,"b":15.25},{"lev":8,"k":8,"a":357.1,"b":14.40},{"lev":8,"k":9,"a":322.5,"b":12.81},{"lev":8,"k":10,"a":301.1,"b":10.77},{"lev":8,"k":11,"a":292.2,"b":8.62},{"lev":8,"k":12,"a":293.4,"b":6.53},{"lev":8,"k":13,"a":302.5,"b":4.58},{"lev":8,"k":14,"a":318.2,"b":2.78},{"lev":8,"k":15,"a":340.2,"b":1.14},{"lev":8,"k":16,"a":369.0,"b":-0.31},{"lev":8,"k":17,"a":405.1,"b":-1.48},{"lev":8,"k":18,"a":448,"b":-2.19},{"lev":8,"k":19,"a":494.7,"b":-2.19},{"lev":8,"k":20,"a":538.9,"b":-1.34},{"lev":8,"k":21,"a":573.5,"b":0.25},{"lev":8,"k":22,"a":594.9,"b":2.29},{"lev":8,"k":23,"a":603.8,"b":4.44},
{"lev":10,"k":0,"a":629.9,"b":6.53},{"lev":10,"k":1,"a":619.1,"b":8.82},{"lev":10,"k":2,"a":600.7,"b":10.94},{"lev":10,"k":3,"a":574.8,"b":12.87},{"lev":10,"k":4,"a":541.0,"b":14.58},{"lev":10,"k":5,"a":498.5,"b":15.96},{"lev":10,"k":6,"a":448,"b":16.79},{"lev":10,"k":7,"a":393.0,"b":16.79},{"lev":10,"k":8,"a":341.1,"b":15.79},{"lev":10,"k":9,"a":300.3,"b":13.91},{"lev":10,"k":10,"a":275.1,"b":11.52},{"lev":10,"k":11,"a":264.7,"b":8.99},{"lev":10,"k":12,"a":266.1,"b":6.53},{"lev":10,"k":13,"a":276.9,"b":4.24},{"lev":10,"k":14,"a":295.3,"b":2.12},{"lev":10,"k":15,"a":321.2,"b":0.19},{"lev":10,"k":16,"a":355.0,"b":-1.52},{"lev":10,"k":17,"a":397.5,"b":-2.90},{"lev":10,"k":18,"a":448,"b":-3.73},{"lev":10,"k":19,"a":503.0,"b":-3.73},{"lev":10,"k":20,"a":554.9,"b":-2.73},{"lev":10,"k":21,"a":595.7,"b":-0.85},{"lev":10,"k":22,"a":620.9,"b":1.54},{"lev":10,"k":23,"a":631.3,"b":4.08},
{"lev":12,"k":0,"a":653.6,"b":6.53},{"lev":12,"k":1,"a":641.5,"b":9.12},{"lev":12,"k":2,"a":620.6,"b":11.51},{"lev":12,"k":3,"a":591.4,"b":13.70},{"lev":12,"k":4,"a":553.1,"b":15.63},{"lev":12,"k":5,"a":505.1,"b":17.19},{"lev":12,"k":6,"a":448,"b":18.12},{"lev":12,"k":7,"a":385.8,"b":18.13},{"lev":12,"k":8,"a":327.1,"b":17.00},{"lev":12,"k":9,"a":281.1,"b":14.88},{"lev":12,"k":10,"a":252.6,"b":12.17},{"lev":12,"k":11,"a":240.8,"b":9.31},{"lev":12,"k":12,"a":242.4,"b":6.53},{"lev":12,"k":13,"a":254.5,"b":3.94},{"lev":12,"k":14,"a":275.4,"b":1.55},{"lev":12,"k":15,"a":304.6,"b":-0.64},{"lev":12,"k":16,"a":342.9,"b":-2.57},{"lev":12,"k":17,"a":390.9,"b":-4.13},{"lev":12,"k":18,"a":448,"b":-5.06},{"lev":12,"k":19,"a":510.2,"b":-5.07},{"lev":12,"k":20,"a":568.9,"b":-3.94},{"lev":12,"k":21,"a":614.9,"b":-1.82},{"lev":12,"k":22,"a":643.4,"b":0.89},{"lev":12,"k":23,"a":655.2,"b":3.76},
{"lev":14,"k":0,"a":674.8,"b":6.53},{"lev":14,"k":1,"a":661.5,"b":9.39},{"lev":14,"k":2,"a":638.5,"b":12.03},{"lev":14,"k":3,"a":606.2,"b":14.44},{"lev":14,"k":4,"a":564.0,"b":16.57},{"lev":14,"k":5,"a":511.0,"b":18.29},{"lev":14,"k":6,"a":448,"b":19.32},{"lev":14,"k":7,"a":379.4,"b":19.33},{"lev":14,"k":8,"a":314.6,"b":18.08},{"lev":14,"k":9,"a":263.8,"b":15.74},{"lev":14,"k":10,"a":232.4,"b":12.76},{"lev":14,"k":11,"a":219.4,"b":9.59},{"lev":14,"k":12,"a":221.2,"b":6.53},{"lev":14,"k":13,"a":234.5,"b":3.67},{"lev":14,"k":14,"a":257.5,"b":1.03},{"lev":14,"k":15,"a":289.8,"b":-1.38},{"lev":14,"k":16,"a":332.0,"b":-3.51},{"lev":14,"k":17,"a":385.0,"b":-5.23},{"lev":14,"k":18,"a":448,"b":-6.26},{"lev":14,"k":19,"a":516.6,"b":-6.27},{"lev":14,"k":20,"a":581.4,"b":-5.02},{"lev":14,"k":21,"a":632.2,"b":-2.68},{"lev":14,"k":22,"a":663.6,"b":0.30},{"lev":14,"k":23,"a":676.6,"b":3.44}
],
"labels": [
{"t":"8","a":330.4,"b":13.8},{"t":"6","a":431.8,"b":13.87},{"t":"8","a":550.6,"b":12.48},{"t":"10","a":566.6,"b":13.53},{"t":"12","a":579.2,"b":14.54},{"t":"4","a":450.7,"b":2.82},{"t":"8","a":327.1,"b":2.86},{"t":"10","a":314.6,"b":1.43},{"t":"8","a":590,"b":1.85}
],
"pred": [{"t":"Prediction\u00a0\u00a03.03151","a":456.7,"b":8.32,"ba":8.85,"bt":10.24,"a0":300,"tx":302.5,"ty":9.55}]
},
"layer": [
{"data": {"name": "grid"},
 "mark": {"type": "rect", "strokeWidth": 0.6},
 "encoding": {
  "x": {"field": "a", "type": "quantitative", "bin": {"binned": true, "step": 10}, "scale": {"domain": [300, 600], "nice": false, "zero": false}, "title": "A: A (r/min)", "axis": {"values": [300, 360, 420, 480, 540, 600], "format": "d"}},
  "y": {"field": "b", "type": "quantitative", "bin": {"binned": true, "step": 0.5}, "scale": {"domain": [0, 15], "nice": false, "zero": false}, "title": "B: B (mm)", "axis": {"values": [0, 3, 6, 9, 12, 15], "format": "d"}},
  "color": {"field": "r", "type": "quantitative", "legend": null, "scale": {"type": "linear", "domain": [2.8, 3.6, 4.6, 5.6, 6.6, 8, 9.5, 11, 12.5, 14, 15], "range": ["#0a50ff", "#0a6cff", "#00b0ff", "#00eeff", "#00ffb8", "#00f050", "#30e000", "#a0f000", "#f0f000", "#ffb000", "#ff8000"], "interpolate": "rgb", "clamp": true}},
  "stroke": {"field": "r", "type": "quantitative", "legend": null, "scale": {"type": "linear", "domain": [2.8, 3.6, 4.6, 5.6, 6.6, 8, 9.5, 11, 12.5, 14, 15], "range": ["#0a50ff", "#0a6cff", "#00b0ff", "#00eeff", "#00ffb8", "#00f050", "#30e000", "#a0f000", "#f0f000", "#ffb000", "#ff8000"], "interpolate": "rgb", "clamp": true}}
 }},
{"data": {"name": "contours"},
 "mark": {"type": "line", "interpolate": "cardinal-closed", "clip": true, "color": "black", "strokeWidth": 1.8},
 "encoding": {
  "x": {"field": "a", "type": "quantitative", "scale": {"domain": [300, 600], "nice": false, "zero": false}, "title": "A: A (r/min)", "axis": {"values": [300, 360, 420, 480, 540, 600], "format": "d"}},
  "y": {"field": "b", "type": "quantitative", "scale": {"domain": [0, 15], "nice": false, "zero": false}, "title": "B: B (mm)", "axis": {"values": [0, 3, 6, 9, 12, 15], "format": "d"}},
  "detail": {"field": "lev", "type": "nominal"},
  "order": {"field": "k", "type": "quantitative"}
 }},
{"data": {"name": "labels"},
 "transform": [{"filter": "length(datum.t) == 1"}],
 "mark": {"type": "point", "shape": "M-0.72,-1H0.72V1H-0.72Z", "size": 441, "filled": true, "fill": "white", "stroke": "black", "strokeWidth": 1.2, "opacity": 1},
 "encoding": {
  "x": {"field": "a", "type": "quantitative", "scale": {"domain": [300, 600], "nice": false, "zero": false}, "title": "A: A (r/min)", "axis": {"values": [300, 360, 420, 480, 540, 600], "format": "d"}},
  "y": {"field": "b", "type": "quantitative", "scale": {"domain": [0, 15], "nice": false, "zero": false}, "title": "B: B (mm)", "axis": {"values": [0, 3, 6, 9, 12, 15], "format": "d"}}
 }},
{"data": {"name": "labels"},
 "transform": [{"filter": "length(datum.t) == 2"}],
 "mark": {"type": "point", "shape": "M-1.15,-1H1.15V1H-1.15Z", "size": 441, "filled": true, "fill": "white", "stroke": "black", "strokeWidth": 1.2, "opacity": 1},
 "encoding": {
  "x": {"field": "a", "type": "quantitative", "scale": {"domain": [300, 600], "nice": false, "zero": false}, "title": "A: A (r/min)", "axis": {"values": [300, 360, 420, 480, 540, 600], "format": "d"}},
  "y": {"field": "b", "type": "quantitative", "scale": {"domain": [0, 15], "nice": false, "zero": false}, "title": "B: B (mm)", "axis": {"values": [0, 3, 6, 9, 12, 15], "format": "d"}}
 }},
{"data": {"name": "labels"},
 "mark": {"type": "text", "font": "'Liberation Serif', 'Times New Roman', Times, serif", "fontSize": 20, "color": "black", "baseline": "middle", "align": "center", "dy": 1},
 "encoding": {
  "x": {"field": "a", "type": "quantitative", "scale": {"domain": [300, 600], "nice": false, "zero": false}, "title": "A: A (r/min)", "axis": {"values": [300, 360, 420, 480, 540, 600], "format": "d"}},
  "y": {"field": "b", "type": "quantitative", "scale": {"domain": [0, 15], "nice": false, "zero": false}, "title": "B: B (mm)", "axis": {"values": [0, 3, 6, 9, 12, 15], "format": "d"}},
  "text": {"field": "t", "type": "nominal"}
 }},
{"data": {"name": "pred"},
 "mark": {"type": "rule", "color": "#9a9a9a", "strokeWidth": 2},
 "encoding": {
  "x": {"field": "a", "type": "quantitative", "scale": {"domain": [300, 600], "nice": false, "zero": false}, "title": "A: A (r/min)", "axis": {"values": [300, 360, 420, 480, 540, 600], "format": "d"}},
  "y": {"field": "b", "type": "quantitative", "scale": {"domain": [0, 15], "nice": false, "zero": false}, "title": "B: B (mm)", "axis": {"values": [0, 3, 6, 9, 12, 15], "format": "d"}},
  "y2": {"field": "ba"}
 }},
{"data": {"name": "pred"},
 "mark": {"type": "rect", "fill": "white", "stroke": "#222222", "strokeWidth": 1},
 "encoding": {
  "x": {"field": "a0", "type": "quantitative", "scale": {"domain": [300, 600], "nice": false, "zero": false}, "title": "A: A (r/min)", "axis": {"values": [300, 360, 420, 480, 540, 600], "format": "d"}},
  "x2": {"field": "a"},
  "y": {"field": "ba", "type": "quantitative", "scale": {"domain": [0, 15], "nice": false, "zero": false}, "title": "B: B (mm)", "axis": {"values": [0, 3, 6, 9, 12, 15], "format": "d"}},
  "y2": {"field": "bt"}
 }},
{"data": {"name": "pred"},
 "mark": {"type": "text", "font": "'Liberation Serif', 'Times New Roman', Times, serif", "fontSize": 25, "color": "black", "baseline": "middle", "align": "left"},
 "encoding": {
  "x": {"field": "tx", "type": "quantitative", "scale": {"domain": [300, 600], "nice": false, "zero": false}, "title": "A: A (r/min)", "axis": {"values": [300, 360, 420, 480, 540, 600], "format": "d"}},
  "y": {"field": "ty", "type": "quantitative", "scale": {"domain": [0, 15], "nice": false, "zero": false}, "title": "B: B (mm)", "axis": {"values": [0, 3, 6, 9, 12, 15], "format": "d"}},
  "text": {"field": "t", "type": "nominal"}
 }},
{"data": {"name": "pred"},
 "mark": {"type": "point", "filled": true, "color": "#b0b0b0", "size": 14, "opacity": 1},
 "encoding": {
  "x": {"field": "a", "type": "quantitative", "scale": {"domain": [300, 600], "nice": false, "zero": false}, "title": "A: A (r/min)", "axis": {"values": [300, 360, 420, 480, 540, 600], "format": "d"}},
  "y": {"field": "b", "type": "quantitative", "scale": {"domain": [0, 15], "nice": false, "zero": false}, "title": "B: B (mm)", "axis": {"values": [0, 3, 6, 9, 12, 15], "format": "d"}}
 }}
]
}
